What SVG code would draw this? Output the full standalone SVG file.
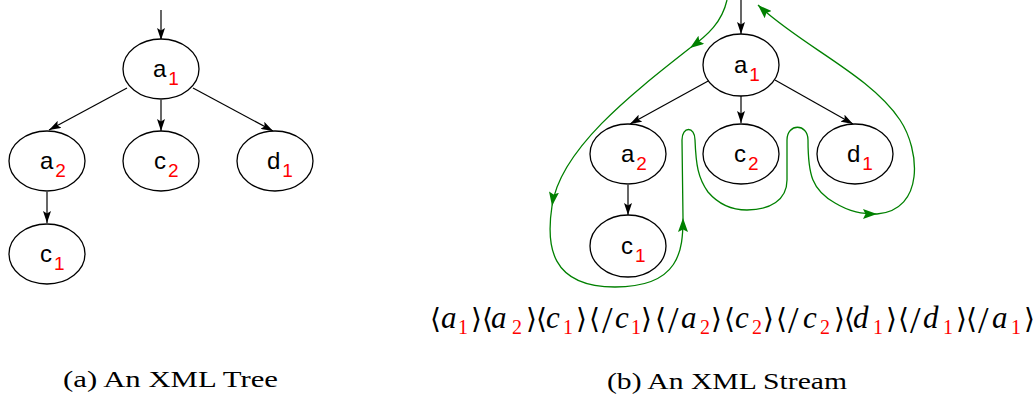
<svg xmlns="http://www.w3.org/2000/svg" width="1034" height="394" viewBox="0 0 1034 394">
<style>
.node{fill:#fff;stroke:#000;stroke-width:1.3}
.edge{stroke:#000;stroke-width:1.2;fill:none}
.walk{stroke:#008000;stroke-width:1.3;fill:none}
.lbl{font-family:"Liberation Sans",Arial,sans-serif;font-size:24px;fill:#000}
.sub{fill:#ff0000;font-size:19px}
.st{font-family:"Liberation Serif","Times New Roman",serif;font-size:31px;fill:#000}
.it{font-style:italic}
.br{font-family:"DejaVu Serif","DejaVu Sans",serif;font-size:28px}
.sl{font-size:38px;font-style:normal}
.ss{font-size:20px;fill:#ff0000;font-style:normal}
.cap{font-family:"Liberation Serif","Times New Roman",serif;font-size:23px;fill:#000}
</style>
<defs>
<marker id="ah" viewBox="0 0 12 8" refX="12" refY="4" markerWidth="12" markerHeight="8" orient="auto" markerUnits="userSpaceOnUse"><path d="M0,0 L12,4 L0,8 L2.5,4 z" fill="#000"/></marker>
<marker id="gh" viewBox="0 0 14 10" refX="14" refY="5" markerWidth="14" markerHeight="10" orient="auto" markerUnits="userSpaceOnUse"><path d="M0,0 L14,5 L0,10 L2.5,5 z" fill="#008000"/></marker>
</defs>

<g id="connectors">
<path class="edge" d="M161,10 L161,40" marker-end="url(#ah)"/>
<path class="edge" d="M127,88 L49,130" marker-end="url(#ah)"/>
<path class="edge" d="M161,100 L161,131" marker-end="url(#ah)"/>
<path class="edge" d="M193,88 L273,131" marker-end="url(#ah)"/>
<path class="edge" d="M47,192 L47,223" marker-end="url(#ah)"/>
<path class="edge" d="M741,0 L741,34" marker-end="url(#ah)"/>
<path class="edge" d="M710,80 L630,124" marker-end="url(#ah)"/>
<path class="edge" d="M741,96 L741,123" marker-end="url(#ah)"/>
<path class="edge" d="M775,80 L853,124" marker-end="url(#ah)"/>
<path class="edge" d="M628,185 L628,215" marker-end="url(#ah)"/>
<path class="walk" d="M727,0 C722,22 708,35 690,48" marker-end="url(#gh)"/>
<path class="walk" d="M690,48 C630,95 560,150 552,206" marker-end="url(#gh)"/>
<path class="walk" d="M552,206 C546,245 550,287 615,287 C680,287 683,250 683,218" marker-end="url(#gh)"/>
<path class="walk" d="M683,218 L682,140 C682,126 695,126 695,140 C696,165 698,178 708,192 C720,206 735,210 747,210 C770,210 787,200 787,180 L787,140 C787,123 808,123 808,140 C808,175 812,190 835,203 C850,212 862,214 877,214" marker-end="url(#gh)"/>
<path class="walk" d="M877,214 C925,210 920,150 900,120 C870,75 800,45 758,5" marker-end="url(#gh)"/>
</g>

<g id="tree-a1"><ellipse class="node" cx="161" cy="69" rx="38" ry="30"/><text class="lbl" x="153" y="77">a<tspan class="sub" dx="2" dy="8">1</tspan></text></g>
<g id="tree-a2"><ellipse class="node" cx="47" cy="161" rx="38" ry="30"/><text class="lbl" x="40" y="169">a<tspan class="sub" dx="2" dy="8">2</tspan></text></g>
<g id="tree-c2"><ellipse class="node" cx="161" cy="161" rx="38" ry="30"/><text class="lbl" x="154" y="169">c<tspan class="sub" dx="2" dy="8">2</tspan></text></g>
<g id="tree-d1"><ellipse class="node" cx="275" cy="161" rx="38" ry="30"/><text class="lbl" x="267" y="169">d<tspan class="sub" dx="2" dy="8">1</tspan></text></g>
<g id="tree-c1"><ellipse class="node" cx="47" cy="254" rx="38" ry="30"/><text class="lbl" x="40" y="262">c<tspan class="sub" dx="2" dy="8">1</tspan></text></g>

<g id="stream-a1"><ellipse class="node" cx="741" cy="65" rx="38" ry="31"/><text class="lbl" x="734" y="73">a<tspan class="sub" dx="2" dy="8">1</tspan></text></g>
<g id="stream-a2"><ellipse class="node" cx="628" cy="154" rx="38" ry="30"/><text class="lbl" x="621" y="162">a<tspan class="sub" dx="2" dy="8">2</tspan></text></g>
<g id="stream-c2"><ellipse class="node" cx="741" cy="154" rx="38" ry="30"/><text class="lbl" x="734" y="162">c<tspan class="sub" dx="2" dy="8">2</tspan></text></g>
<g id="stream-d1"><ellipse class="node" cx="855" cy="154" rx="38" ry="30"/><text class="lbl" x="847" y="162">d<tspan class="sub" dx="2" dy="8">1</tspan></text></g>
<g id="stream-c1"><ellipse class="node" cx="628" cy="246" rx="38" ry="31"/><text class="lbl" x="621" y="254">c<tspan class="sub" dx="2" dy="8">1</tspan></text></g>

<g id="stream-text">
<text class="st br" y="328"><tspan x="430">⟨</tspan><tspan x="471">⟩</tspan><tspan x="482">⟨</tspan><tspan x="526">⟩</tspan><tspan x="536">⟨</tspan><tspan x="576">⟩</tspan><tspan x="589">⟨</tspan><tspan x="641">⟩</tspan><tspan x="655">⟨</tspan><tspan x="711">⟩</tspan><tspan x="724">⟨</tspan><tspan x="763">⟩</tspan><tspan x="776">⟨</tspan><tspan x="834">⟩</tspan><tspan x="844">⟨</tspan><tspan x="886">⟩</tspan><tspan x="898">⟨</tspan><tspan x="956">⟩</tspan><tspan x="966">⟨</tspan><tspan x="1024">⟩</tspan></text>
<text class="st sl" y="333"><tspan x="602">/</tspan><tspan x="668">/</tspan><tspan x="788">/</tspan><tspan x="910">/</tspan><tspan x="978">/</tspan></text>
<text class="st it" y="328"><tspan x="441">a</tspan><tspan x="491">a</tspan><tspan x="546">c</tspan><tspan x="615">c</tspan><tspan x="681">a</tspan><tspan x="735">c</tspan><tspan x="803">c</tspan><tspan x="853">d</tspan><tspan x="923">d</tspan><tspan x="992">a</tspan></text>
<text class="st ss" y="334"><tspan x="458">1</tspan><tspan x="512">2</tspan><tspan x="563">1</tspan><tspan x="631">1</tspan><tspan x="700">2</tspan><tspan x="752">2</tspan><tspan x="820">2</tspan><tspan x="873">1</tspan><tspan x="943">1</tspan><tspan x="1011">1</tspan></text>
</g>

<g id="captions">
<text class="cap" x="63" y="387" textLength="215" lengthAdjust="spacingAndGlyphs">(a) An XML Tree</text>
<text class="cap" x="607" y="389" textLength="240" lengthAdjust="spacingAndGlyphs">(b) An XML Stream</text>
</g>
</svg>
